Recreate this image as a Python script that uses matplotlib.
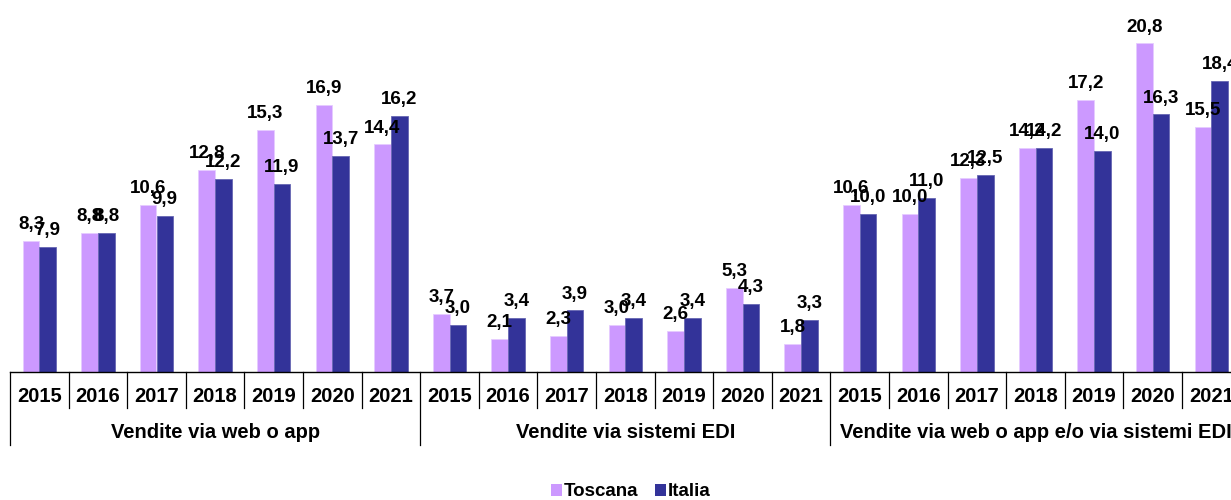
import matplotlib
matplotlib.use("Agg")
import matplotlib.pyplot as plt
from matplotlib.patches import Patch
import numpy as np

plt.rcParams['font.family'] = ['Liberation Sans', 'DejaVu Sans']
plt.rcParams['font.weight'] = 'bold'

years = ["2015", "2016", "2017", "2018", "2019", "2020", "2021"]
groups = ["Vendite via web o app", "Vendite via sistemi EDI",
          "Vendite via web o app e/o via sistemi EDI"]
toscana = [8.3, 8.8, 10.6, 12.8, 15.3, 16.9, 14.4,
           3.7, 2.1, 2.3, 3.0, 2.6, 5.3, 1.8,
           10.6, 10.0, 12.3, 14.2, 17.2, 20.8, 15.5]
italia = [7.9, 8.8, 9.9, 12.2, 11.9, 13.7, 16.2,
          3.0, 3.4, 3.9, 3.4, 3.4, 4.3, 3.3,
          10.0, 11.0, 12.5, 14.2, 14.0, 16.3, 18.4]
series_names = ["Toscana", "Italia"]
colors = ["#CC99FF", "#333399"]

W, H = 1231, 500
fig = plt.figure(figsize=(W / 100, H / 100), dpi=100)
slot = 58.6
left_px = 10
base_px = 372
top_px = 9
n = len(toscana)
ax = fig.add_axes([left_px / W, (H - base_px) / H, n * slot / W, (base_px - top_px) / H])
ax_h_px = base_px - top_px

x = np.arange(n)
bw = 0.285
ax.bar(x - bw / 2, toscana, bw, color=colors[0], edgecolor='#E6CCFF', linewidth=0.6)
ax.bar(x + bw / 2, italia, bw, color=colors[1], edgecolor='#6666B3', linewidth=0.6)

for xs, vals in ((x - bw / 2, toscana), (x + bw / 2, italia)):
    for xi, v in zip(xs, vals):
        ax.annotate(f"{v:.1f}".replace('.', ','), (xi, v), xytext=(0, 8.5),
                    textcoords='offset points', ha='center', va='baseline',
                    fontsize=13.5, fontweight='bold', color='black')

ax.set_xlim(-0.5, n - 0.5)
ax.set_ylim(0, ax_h_px / 15.8)
ax.axis('off')

tr = ax.get_xaxis_transform()
def frac(px):
    return -(px - base_px) / ax_h_px

ax.plot([-0.5, n - 0.5], [0, 0], color='black', lw=1.0, transform=tr, clip_on=False)
for i in range(n + 1):
    xb = i - 0.5
    bottom = 445 if i % 7 == 0 else 408
    ax.plot([xb, xb], [0, frac(bottom)], color='black', lw=0.9, transform=tr, clip_on=False)

for i in range(n):
    ax.text(i, frac(396), years[i % 7], transform=tr, ha='center', va='center',
            fontsize=14.5, fontweight='bold', clip_on=False)
for g, name in enumerate(groups):
    ax.text(g * 7 + 3, frac(433), name, transform=tr, ha='center', va='center',
            fontsize=14.5, fontweight='bold', clip_on=False)

handles = [Patch(facecolor=c, edgecolor='none') for c in colors]
fig.legend(handles, series_names, loc='center', bbox_to_anchor=(631 / W, (H - 492) / H),
           ncol=2, frameon=False, handlelength=0.55, handleheight=0.55, handletextpad=0.12,
           columnspacing=0.9, prop={'size': 13.5, 'weight': 'bold'})

fig.savefig("out.png", dpi=100)
